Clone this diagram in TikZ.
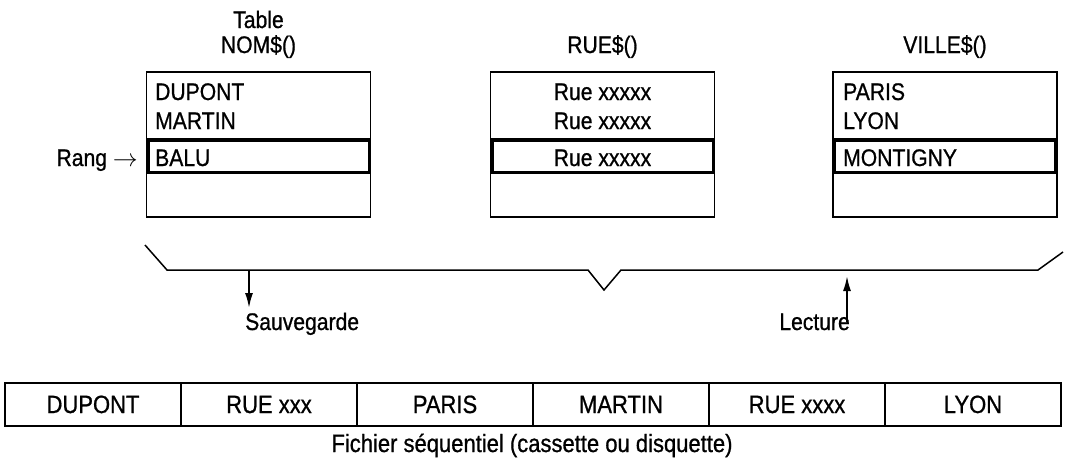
\documentclass[tikz,border=0pt]{standalone}
\usepackage{fontspec}
\setmainfont{Liberation Sans}[FakeStretch=0.88,FakeBold=0.8]
\usetikzlibrary{arrows.meta}

\tikzset{
  tabbox/.style={draw, line width=1.5pt, minimum width=224pt, minimum height=145pt, inner sep=0pt},
  rangbox/.style={draw, line width=3.5pt, minimum width=221.5pt, minimum height=32.5pt, inner sep=0pt},
  cellbox/.style={draw, line width=1.8pt, minimum width=176pt, minimum height=43pt, inner sep=0pt,
    text height=17pt, text depth=0pt, font=\fontsize{25}{30}\selectfont},
  lbl/.style={inner sep=0pt, font=\fontsize{24}{29}\selectfont},
  fleche/.style={line width=1.8pt, -{Latex[length=15pt,width=8pt]}}
}

\begin{document}
\begin{tikzpicture}[x=1pt,y=-1pt]
  \useasboundingbox (0,0) rectangle (1065,459);
  %% les trois tables
  \node[tabbox] (nom) at (258.5,144.5) {};
  \node[tabbox] (rue) at (602.5,144.5) {};
  \node[tabbox] (ville) at (945,144.5) {};
  \node[rangbox] (nomrang) at (258.5,156) {};
  \node[rangbox] (ruerang) at (602.5,156) {};
  \node[rangbox] (villerang) at (945,156) {};
  %% titres
  \node[lbl, anchor=base] (nomtitre) at (258.5,28) {Table};
  \node[lbl, anchor=base] (nomtab) at (258.5,53) {NOM\$()};
  \node[lbl, anchor=base] (ruetab) at (602.5,53) {RUE\$()};
  \node[lbl, anchor=base] (villetab) at (945,53) {VILLE\$()};
  %% contenu
  \node[lbl, anchor=base west] (nom1) at (155,100) {DUPONT};
  \node[lbl, anchor=base west] (nom2) at (155,129) {MARTIN};
  \node[lbl, anchor=base west] (nom3) at (155,166) {BALU};
  \node[lbl, anchor=base] (rue1) at (602.5,100) {Rue xxxxx};
  \node[lbl, anchor=base] (rue2) at (602.5,129) {Rue xxxxx};
  \node[lbl, anchor=base] (rue3) at (602.5,166) {Rue xxxxx};
  \node[lbl, anchor=base west] (ville1) at (843,100) {PARIS};
  \node[lbl, anchor=base west] (ville2) at (843,129) {LYON};
  \node[lbl, anchor=base west] (ville3) at (843,166) {MONTIGNY};
  \node[lbl, anchor=base east] (rang) at (138,166) {Rang $\rightarrow$};
  %% accolade
  \coordinate (acg) at (145,245);
  \coordinate (acd) at (1063,252);
  \coordinate (acv) at (604,290);
  \draw[line width=1.5pt] (acg) -- (167,270) -- (588,270) -- (acv) -- (621,270) -- (1038,270) -- (acd);
  \node[lbl, anchor=base west] (sauv) at (245,330) {Sauvegarde};
  \node[lbl, anchor=base east] (lect) at (850,330) {Lecture};
  \coordinate (sv1) at (249,270);
  \coordinate (sv2) at (249,308);
  \coordinate (lc1) at (847,322);
  \coordinate (lc2) at (847,276);
  \draw[fleche] (sv1) -- (sv2);
  \draw[fleche] (lc1) -- (lc2);
  %% fichier
  \foreach \w [count=\i] in {DUPONT,RUE xxx,PARIS,MARTIN,RUE xxxx,LYON}
    \node[cellbox] (f\i) at ({5+176*\i-88},404.5) {\w};
  \node[lbl, anchor=base, font=\fontsize{25}{30}\selectfont] (fich) at (532,452) {Fichier séquentiel (cassette ou disquette)};
\end{tikzpicture}
\end{document}
